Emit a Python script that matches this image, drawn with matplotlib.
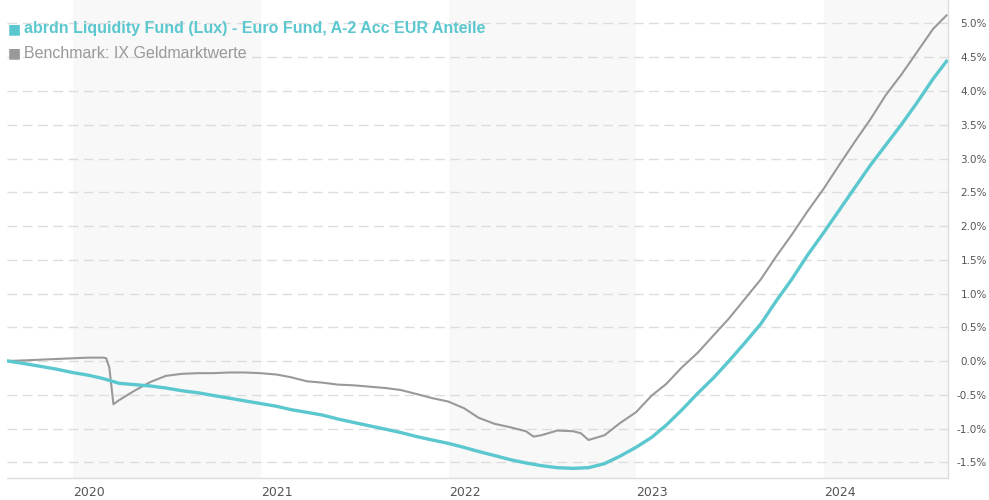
import numpy as np
import pandas as pd
import matplotlib
matplotlib.use('Agg')
import matplotlib.pyplot as plt

# --- data (cumulative performance in %) ---
fund_dates = ['2019-08-28', '2019-09-30', '2019-10-31', '2019-11-30', '2019-12-31',
              '2020-01-31', '2020-02-29', '2020-03-31', '2020-04-30', '2020-05-31',
              '2020-06-30', '2020-07-31', '2020-08-31', '2020-09-30', '2020-10-31',
              '2020-11-30', '2020-12-31', '2021-01-31', '2021-02-28', '2021-03-31',
              '2021-04-30', '2021-05-31', '2021-06-30', '2021-07-31', '2021-08-31',
              '2021-09-30', '2021-10-31', '2021-11-30', '2021-12-31', '2022-01-31',
              '2022-02-28', '2022-03-31', '2022-04-30', '2022-05-31', '2022-06-30',
              '2022-07-31', '2022-08-31', '2022-09-30', '2022-10-31', '2022-11-30',
              '2022-12-31', '2023-01-31', '2023-02-28', '2023-03-31', '2023-04-30',
              '2023-05-31', '2023-06-30', '2023-07-31', '2023-08-31', '2023-09-30',
              '2023-10-31', '2023-11-30', '2023-12-31', '2024-01-31', '2024-02-29',
              '2024-03-31', '2024-04-30', '2024-05-31', '2024-06-30', '2024-07-31',
              '2024-08-26']
fund_values = [0.00, -0.04, -0.08, -0.12, -0.17,
               -0.21, -0.26, -0.33, -0.35, -0.37,
               -0.40, -0.44, -0.47, -0.51, -0.55,
               -0.59, -0.63, -0.67, -0.72, -0.76,
               -0.80, -0.86, -0.91, -0.96, -1.01,
               -1.06, -1.12, -1.17, -1.22, -1.28,
               -1.34, -1.40, -1.46, -1.51, -1.55,
               -1.58, -1.59, -1.58, -1.52, -1.41,
               -1.28, -1.13, -0.95, -0.72, -0.48,
               -0.25, 0.00, 0.27, 0.55, 0.89,
               1.22, 1.57, 1.90, 2.24, 2.56,
               2.90, 3.20, 3.51, 3.83, 4.18,
               4.44]

bench_dates = ['2019-08-28', '2019-09-30', '2019-10-31', '2019-11-30', '2019-12-31',
               '2020-01-31', '2020-02-29', '2020-03-06', '2020-03-12', '2020-03-20',
               '2020-03-31', '2020-04-30', '2020-05-31', '2020-06-30', '2020-07-31',
               '2020-08-31', '2020-09-30', '2020-10-31', '2020-11-30', '2020-12-31',
               '2021-01-31', '2021-02-28', '2021-03-31', '2021-04-30', '2021-05-31',
               '2021-06-30', '2021-07-31', '2021-08-31', '2021-09-30', '2021-10-31',
               '2021-11-30', '2021-12-31', '2022-01-31', '2022-02-28', '2022-03-31',
               '2022-04-30', '2022-05-31', '2022-06-15', '2022-06-30', '2022-07-31',
               '2022-08-31', '2022-09-15', '2022-09-30', '2022-10-31', '2022-11-30',
               '2022-12-31', '2023-01-31', '2023-02-28', '2023-03-31', '2023-04-30',
               '2023-05-31', '2023-06-30', '2023-07-31', '2023-08-31', '2023-09-30',
               '2023-10-31', '2023-11-30', '2023-12-31', '2024-01-31', '2024-02-29',
               '2024-03-31', '2024-04-30', '2024-05-31', '2024-06-30', '2024-07-31',
               '2024-08-26']
bench_values = [0.00, 0.01, 0.02, 0.03, 0.04,
                0.05, 0.05, 0.04, -0.10, -0.64,
                -0.58, -0.44, -0.31, -0.22, -0.19,
                -0.18, -0.18, -0.17, -0.17, -0.18,
                -0.20, -0.24, -0.30, -0.32, -0.35,
                -0.36, -0.38, -0.40, -0.43, -0.49,
                -0.55, -0.60, -0.70, -0.84, -0.93,
                -0.98, -1.04, -1.12, -1.10, -1.03,
                -1.04, -1.07, -1.17, -1.10, -0.92,
                -0.76, -0.51, -0.34, -0.09, 0.12,
                0.38, 0.63, 0.92, 1.21, 1.55,
                1.88, 2.22, 2.55, 2.91, 3.24,
                3.58, 3.94, 4.25, 4.58, 4.92,
                5.12]

years = [2020, 2021, 2022, 2023, 2024]
shaded_years = [2020, 2022, 2024]
fund_name = 'abrdn Liquidity Fund (Lux) - Euro Fund, A-2 Acc EUR Anteile'
bench_name = 'Benchmark: IX Geldmarktwerte'

fund_color = '#5bc7ce'
bench_color = '#999999'

W, H = 989, 500
fig = plt.figure(figsize=(W / 100, H / 100), dpi=100)
ax = fig.add_axes([7 / W, 1 - 478 / H, (948 - 7) / W, 478 / H])

x_start = pd.Timestamp('2019-08-26')
x_end = pd.Timestamp('2024-08-29')

for y in shaded_years:
    ax.axvspan(pd.Timestamp(f'{y}-01-01'), min(pd.Timestamp(f'{y + 1}-01-01'), x_end),
               color='#f8f8f8', lw=0, zorder=0)

ax.plot(pd.to_datetime(bench_dates), bench_values, color=bench_color, lw=1.5, zorder=3)
ax.plot(pd.to_datetime(fund_dates), fund_values, color=fund_color, lw=2.4, zorder=4)

ax.set_xlim(x_start, x_end)
ax.set_ylim(-1.733, 5.348)

yt = np.arange(-1.5, 5.01, 0.5)
ax.set_yticks(yt)
ax.set_yticklabels([f'{v:.1f}%' for v in yt], ha='right')
ax.yaxis.tick_right()
ax.tick_params(axis='y', length=0, pad=28, labelsize=7.5, labelcolor='#555555')
ax.grid(axis='y', color='#dddddd', lw=1, linestyle=(0, (7, 4)), zorder=1)

ax.set_xticks([pd.Timestamp(f'{y}-01-01') for y in years])
ax.set_xticklabels([str(y) for y in years], ha='left')
ax.tick_params(axis='x', length=0, pad=6, labelsize=9, labelcolor='#555555')

for s in ['top', 'left']:
    ax.spines[s].set_visible(False)
for s in ['right', 'bottom']:
    ax.spines[s].set_color('#dddddd')
    ax.spines[s].set_linewidth(1)

# legend drawn as text
fig.text(8 / W, 1 - 29 / H, '\u25a0', color=fund_color, fontsize=10,
         family='DejaVu Sans', va='center', ha='left')
fig.text(24 / W, 1 - 29 / H, fund_name, color=fund_color, fontsize=11.5,
         family='Liberation Sans', fontweight='bold', va='center', ha='left')
fig.text(8 / W, 1 - 53 / H, '\u25a0', color=bench_color, fontsize=10,
         family='DejaVu Sans', va='center', ha='left')
fig.text(24 / W, 1 - 53 / H, bench_name, color=bench_color, fontsize=11.5,
         family='Liberation Sans', va='center', ha='left')

plt.savefig('out.png', dpi=100)
